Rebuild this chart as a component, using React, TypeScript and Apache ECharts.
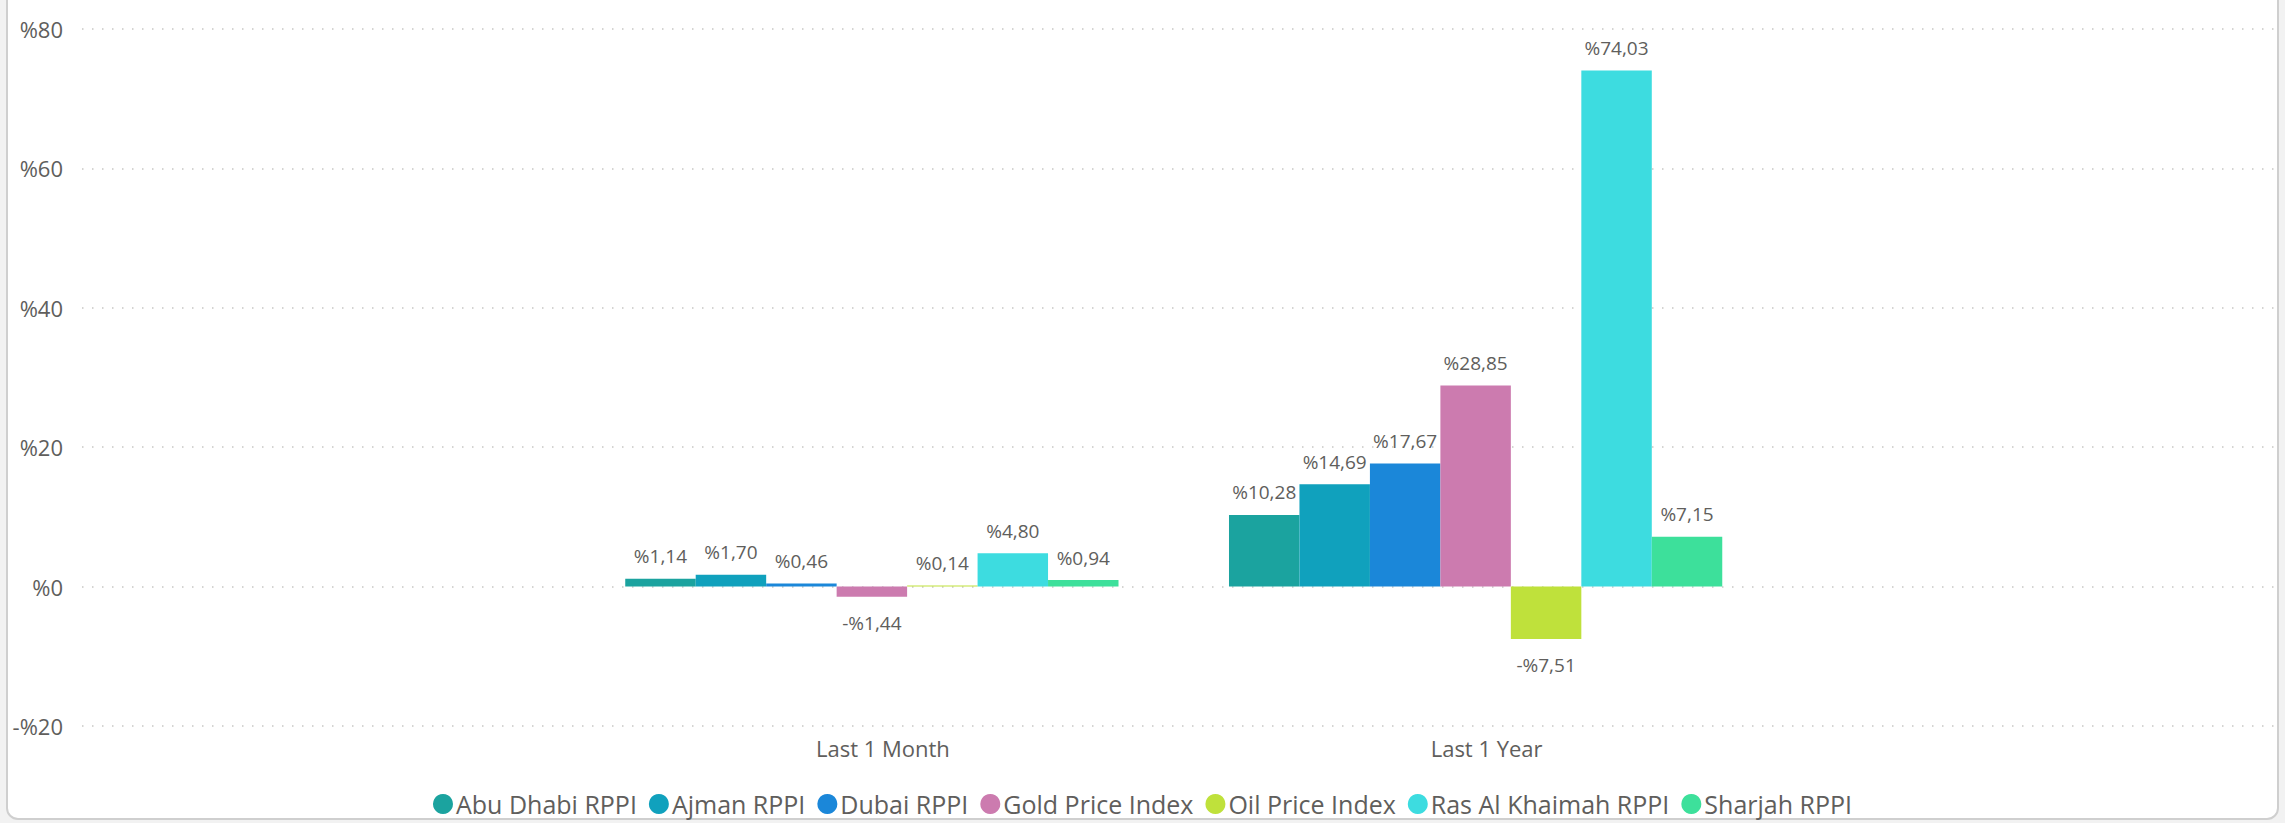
import React, { useEffect, useRef } from "react";
import * as echarts from "echarts";

const categories = ["Last 1 Month", "Last 1 Year"];
const seriesNames = [
  "Abu Dhabi RPPI",
  "Ajman RPPI",
  "Dubai RPPI",
  "Gold Price Index",
  "Oil Price Index",
  "Ras Al Khaimah RPPI",
  "Sharjah RPPI",
];
const abuDhabi = [1.14, 10.28];
const ajman = [1.7, 14.69];
const dubai = [0.46, 17.67];
const gold = [-1.44, 28.85];
const oil = [0.14, -7.51];
const rak = [4.8, 74.03];
const sharjah = [0.94, 7.15];
const seriesValues = [abuDhabi, ajman, dubai, gold, oil, rak, sharjah];
const colors = ["#1BA39F", "#10A1BD", "#1B87D9", "#CC7BAF", "#BFE13B", "#3DDCE0", "#3DE09B"];
const yMin = -20;
const yMax = 80;
const yInterval = 20;

const FONT = "'Open Sans', 'Noto Sans', sans-serif";
const TEXT = "#605E5C";

function pct(v: number, digits: number): string {
  const s = Math.abs(v).toFixed(digits).replace(".", ",");
  return (v < 0 ? "-%" : "%") + s;
}

export default function App() {
  const ref = useRef<HTMLDivElement>(null);
  useEffect(() => {
    document.body.style.margin = "0";
    if (!ref.current) return;
    const chart = echarts.init(ref.current, undefined, { renderer: "svg" });
    const series = seriesNames.map((name, i) => ({
      name,
      type: "bar",
      xAxisIndex: 1,
      yAxisIndex: 1,
      barGap: "0%",
      barCategoryGap: "18.3%",
      itemStyle: { color: colors[i] },
      data: seriesValues[i].map((v) => ({
        value: v,
        label: {
          position: v < 0 ? "bottom" : "top",
          distance: v < 0 ? 17 : 13,
        },
      })),
      label: {
        show: true,
        fontFamily: FONT,
        fontSize: 19,
        color: TEXT,
        formatter: (p: any) => pct(p.value, 2),
      },
    }));
    chart.setOption({
      animation: false,
      color: colors,
      grid: [
        { left: 82, right: 5, top: 29, bottom: 97 },
        { left: 570, right: 507.5, top: 29, bottom: 97 },
      ],
      xAxis: [
        { type: "value", gridIndex: 0, show: false, min: 0, max: 1 },
        {
          type: "category",
          gridIndex: 1,
          data: categories,
          axisLine: { show: false },
          axisTick: { show: false },
          axisLabel: {
            margin: 11,
            fontFamily: FONT,
            fontSize: 22,
            color: TEXT,
            padding: [0, 0, 0, 22],
          },
        },
      ],
      yAxis: [
        {
          type: "value",
          gridIndex: 0,
          min: yMin,
          max: yMax,
          interval: yInterval,
          axisLine: { show: false },
          axisTick: { show: false },
          axisLabel: {
            margin: 19,
            fontFamily: FONT,
            fontSize: 22,
            color: TEXT,
            formatter: (v: number) => pct(v, 0),
          },
          splitLine: {
            show: true,
            lineStyle: { color: "#C8C6C4", width: 1.5, type: [1.5, 8.5] },
          },
        },
        {
          type: "value",
          gridIndex: 1,
          min: yMin,
          max: yMax,
          interval: yInterval,
          show: false,
          splitLine: { show: false },
        },
      ],
      legend: {
        top: 790,
        left: "center",
        padding: 0,
        icon: "circle",
        itemWidth: 20,
        itemHeight: 20,
        itemGap: 12,
        textStyle: {
          fontFamily: FONT,
          fontSize: 25,
          lineHeight: 28,
          color: TEXT,
          padding: [0, 0, 0, -2],
        },
        data: seriesNames,
      },
      series,
    });
    return () => chart.dispose();
  }, []);

  return (
    <div style={{ position: "relative", width: 2285, height: 823, background: "#F2F2F2", overflow: "hidden" }}>
      <div
        style={{
          position: "absolute",
          left: 6,
          top: -20,
          width: 2273,
          height: 840,
          background: "#FFFFFF",
          border: "2px solid #CFCFCF",
          borderRadius: 12,
          boxSizing: "border-box",
        }}
      />
      <div ref={ref} style={{ position: "absolute", left: 0, top: 0, width: 2285, height: 823 }} />
    </div>
  );
}
